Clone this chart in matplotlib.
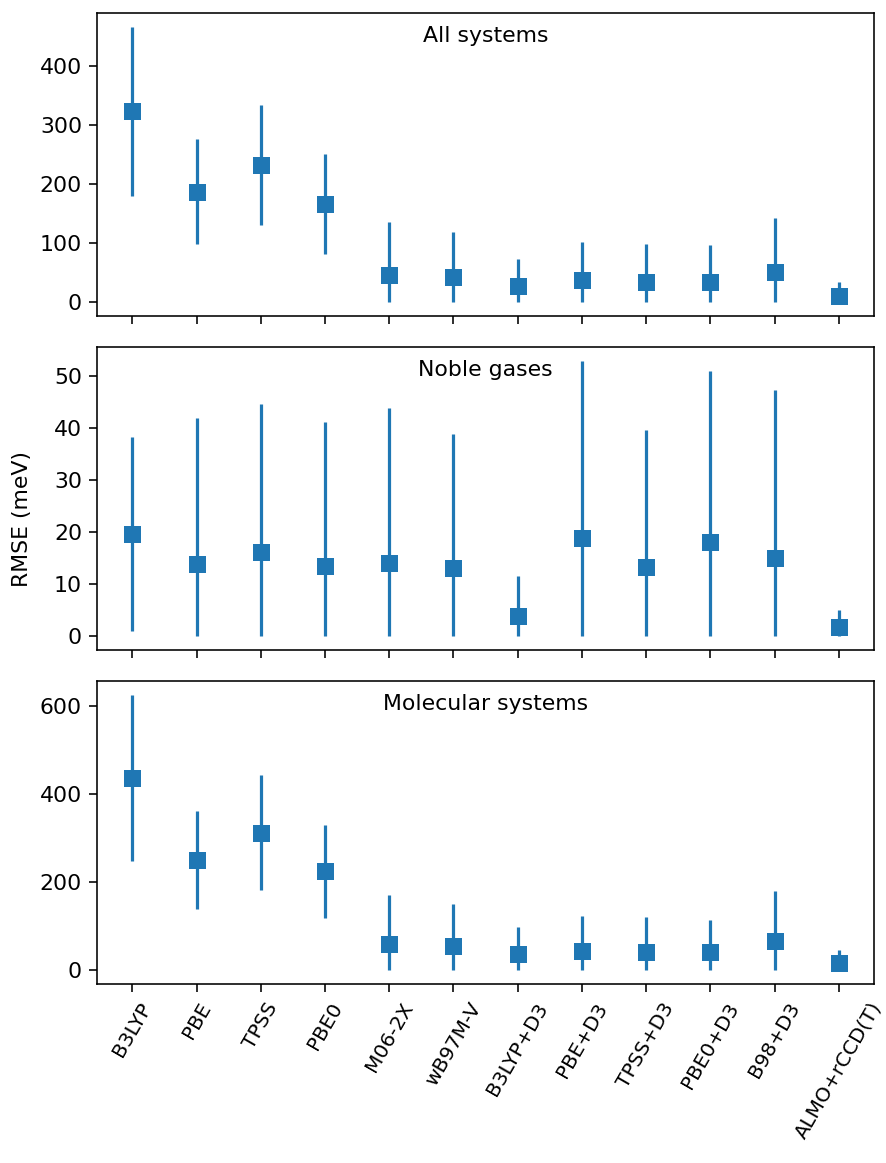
import numpy as np
import matplotlib
matplotlib.use('Agg')
import matplotlib.pyplot as plt

methods = ['B3LYP', 'PBE', 'TPSS', 'PBE0', 'M06-2X', 'wB97M-V', 'B3LYP+D3',
           'PBE+D3', 'TPSS+D3', 'PBE0+D3', 'B98+D3', 'ALMO+rCCD(T)']

# All systems
all_rmse = [324, 187, 233, 167, 47, 43, 27, 37, 35, 35, 51.5, 11]
all_err = [143, 89, 102, 85, 89, 77, 46, 65, 63, 62, 91.5, 24]

# Noble gases
noble_rmse = [19.7, 13.9, 16.2, 13.6, 14.1, 13.2, 3.9, 18.9, 13.3, 18.1, 15.0, 1.7]
noble_err = [18.7, 28.1, 28.5, 27.7, 29.8, 25.7, 7.6, 34.1, 26.4, 32.9, 32.4, 3.3]

# Molecular systems
mol_rmse = [436, 250, 312, 224, 60, 54, 36, 44, 42, 42, 66, 16]
mol_err = [189, 112, 130, 106, 111, 97, 61, 78, 78, 73, 113, 29]

titles = ['All systems', 'Noble gases', 'Molecular systems']
panels = [(all_rmse, all_err), (noble_rmse, noble_err), (mol_rmse, mol_err)]

plt.rcParams['font.size'] = 11
plt.rcParams['xtick.labelsize'] = 10
plt.rcParams['xtick.major.size'] = 4
plt.rcParams['ytick.major.size'] = 4
plt.rcParams['lines.linewidth'] = 1.6

fig, axes = plt.subplots(3, 1, sharex=True, figsize=(886 / 144, 1163 / 144), dpi=144)
fig.subplots_adjust(left=0.1095, right=0.9865, top=0.9888, bottom=0.1539, hspace=0.102)

x = np.arange(len(methods))
for ax, title, (rmse, err) in zip(axes, titles, panels):
    rmse = np.array(rmse)
    err = np.array(err)
    # lower error clipped at zero
    lower = np.minimum(err, rmse)
    ax.errorbar(x, rmse, yerr=[lower, err], fmt='s', markersize=7.5, color='C0')
    ax.text(0.5, 0.925, title, transform=ax.transAxes, ha='center', va='center')

fig.text(22.5 / 886, 1 - 519 / 1163, 'RMSE (meV)', rotation=90, ha='center', va='center')
axes[2].set_xticks(x)
axes[2].set_xticklabels(methods, rotation=60)

plt.savefig('out.png', dpi=144)
